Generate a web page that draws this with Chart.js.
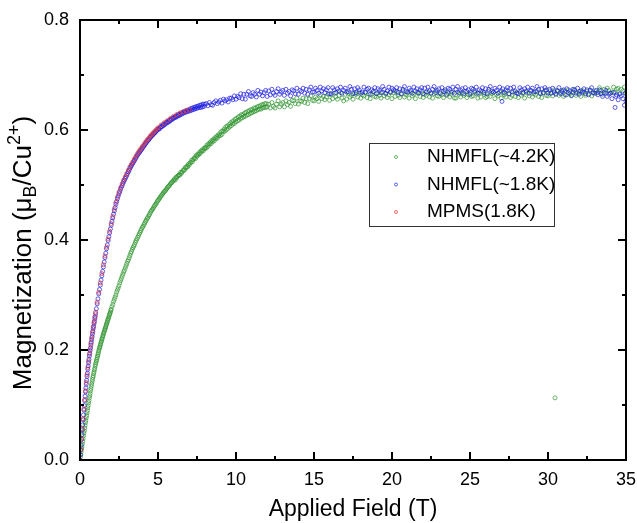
<!DOCTYPE html>
<html>
<head>
<meta charset="utf-8">
<script src="https://cdn.jsdelivr.net/npm/chart.js@4.4.1/dist/chart.umd.min.js"></script>
<style>
html,body{margin:0;padding:0;background:#fff;}
#wrap{width:637px;height:523px;position:relative;}
canvas{display:block;}
</style>
</head>
<body>
<div id="wrap"><canvas id="c" width="637" height="523"></canvas></div>
<script>
// ---- data ----
const seriesLabels = ['NHMFL(~4.2K)', 'NHMFL(~1.8K)', 'MPMS(1.8K)'];
const xTickValues = [0, 5, 10, 15, 20, 25, 30, 35];
const xMinorTicks = [2.5, 7.5, 12.5, 17.5, 22.5, 27.5, 32.5];
const yTickLabels = ['0.0', '0.2', '0.4', '0.6', '0.8'];
const yTickValues = [0, 0.2, 0.4, 0.6, 0.8];
const yMinorTicks = [0.1, 0.3, 0.5, 0.7];

// NHMFL ~4.2 K : [field (T), magnetization (muB/Cu2+)]
const green42K = [
[0,0],[0.025,0.005],[0.05,0.010],[0.075,0.015],[0.1,0.020],[0.125,0.024],[0.15,0.029],[0.175,0.034],[0.2,0.039],[0.225,0.044],[0.25,0.049],[0.275,0.053],[0.3,0.058],[0.325,0.063],[0.35,0.068],[0.375,0.072],[0.4,0.077],[0.425,0.081],[0.45,0.086],[0.475,0.090],[0.5,0.095],[0.525,0.099],[0.55,0.104],[0.575,0.108],[0.6,0.113],[0.625,0.117],[0.65,0.121],[0.675,0.126],[0.7,0.130],[0.725,0.134],[0.75,0.138],[0.775,0.142],[0.8,0.146],[0.825,0.150],[0.85,0.153],[0.875,0.157],[0.9,0.160],[0.925,0.164],[0.95,0.167],[0.975,0.171],[1,0.174],
[1.025,0.177],[1.05,0.180],[1.075,0.183],[1.1,0.186],[1.125,0.189],[1.15,0.192],[1.175,0.195],[1.2,0.198],[1.225,0.201],[1.25,0.204],[1.275,0.206],[1.3,0.209],[1.325,0.211],[1.35,0.214],[1.375,0.216],[1.4,0.219],[1.425,0.221],[1.45,0.224],[1.475,0.226],[1.5,0.229],[1.525,0.231],[1.55,0.233],[1.575,0.236],[1.6,0.238],[1.625,0.240],[1.65,0.242],[1.675,0.245],[1.7,0.247],[1.725,0.249],[1.75,0.251],[1.775,0.254],[1.8,0.256],[1.825,0.258],[1.85,0.260],[1.875,0.263],[1.9,0.265],[1.925,0.267],[1.95,0.269],[1.975,0.272],[2,0.274],
[2.05,0.279],[2.1,0.283],[2.15,0.288],[2.2,0.292],[2.25,0.296],[2.3,0.300],[2.35,0.305],[2.4,0.309],[2.45,0.313],[2.5,0.317],[2.55,0.322],[2.6,0.326],[2.65,0.330],[2.7,0.334],[2.75,0.338],[2.8,0.342],[2.85,0.345],[2.9,0.349],[2.95,0.353],[3,0.357],[3.05,0.361],[3.1,0.364],[3.15,0.368],[3.2,0.372],[3.25,0.376],[3.3,0.379],[3.35,0.383],[3.4,0.386],[3.45,0.389],[3.5,0.392],[3.55,0.396],[3.6,0.399],[3.65,0.402],[3.7,0.405],[3.75,0.408],[3.8,0.411],[3.85,0.414],[3.9,0.417],[3.95,0.420],[4,0.423],
[4.05,0.425],[4.1,0.428],[4.15,0.431],[4.2,0.434],[4.25,0.436],[4.3,0.439],[4.35,0.441],[4.4,0.444],[4.45,0.446],[4.5,0.449],[4.55,0.452],[4.6,0.454],[4.65,0.456],[4.7,0.458],[4.75,0.461],[4.8,0.463],[4.85,0.465],[4.9,0.467],[4.95,0.470],[5,0.472],[5.05,0.474],[5.1,0.476],[5.15,0.478],[5.2,0.480],[5.25,0.482],[5.3,0.484],[5.35,0.486],[5.4,0.488],[5.45,0.489],[5.5,0.491],[5.55,0.493],[5.6,0.495],[5.65,0.497],[5.7,0.498],[5.75,0.500],[5.8,0.502],[5.85,0.504],[5.9,0.505],[5.95,0.507],[6,0.508],
[6.05,0.511],[6.1,0.509],[6.15,0.514],[6.2,0.513],[6.25,0.516],[6.3,0.517],[6.35,0.519],[6.4,0.518],[6.45,0.523],[6.5,0.521],[6.55,0.524],[6.6,0.526],[6.65,0.528],[6.7,0.527],[6.75,0.532],[6.8,0.531],[6.85,0.534],[6.9,0.533],[6.95,0.538],[7,0.536],[7.05,0.540],[7.1,0.541],[7.15,0.545],[7.2,0.542],[7.25,0.546],[7.3,0.548],[7.35,0.550],[7.4,0.548],[7.45,0.554],[7.5,0.552],[7.55,0.556],[7.6,0.555],[7.65,0.559],[7.7,0.557],[7.75,0.562],[7.8,0.561],[7.85,0.564],[7.9,0.562],[7.95,0.567],[8,0.566],
[8.05,0.569],[8.1,0.567],[8.15,0.573],[8.2,0.570],[8.25,0.575],[8.3,0.574],[8.35,0.578],[8.4,0.575],[8.45,0.581],[8.5,0.579],[8.55,0.583],[8.6,0.580],[8.65,0.586],[8.7,0.584],[8.75,0.588],[8.8,0.585],[8.85,0.591],[8.9,0.589],[8.95,0.593],[9,0.590],[9.05,0.597],[9.1,0.592],[9.15,0.599],[9.2,0.597],[9.25,0.602],[9.3,0.598],[9.35,0.606],[9.4,0.601],[9.45,0.607],[9.5,0.603],[9.55,0.610],[9.6,0.606],[9.65,0.613],[9.7,0.608],[9.75,0.615],[9.8,0.611],[9.85,0.617],[9.9,0.612],[9.95,0.620],[10,0.615],
[10.05,0.621],[10.1,0.617],[10.15,0.624],[10.2,0.618],[10.25,0.625],[10.3,0.621],[10.35,0.628],[10.4,0.622],[10.45,0.628],[10.5,0.624],[10.55,0.631],[10.6,0.625],[10.65,0.632],[10.7,0.627],[10.75,0.634],[10.8,0.628],[10.85,0.635],[10.9,0.630],[10.95,0.637],[11,0.631],[11.05,0.637],[11.1,0.633],[11.15,0.640],[11.2,0.634],[11.25,0.640],[11.3,0.635],[11.35,0.642],[11.4,0.637],[11.45,0.643],[11.5,0.638],[11.55,0.644],[11.6,0.638],[11.65,0.646],[11.7,0.640],[11.75,0.646],[11.8,0.641],[11.85,0.648],[11.9,0.641],[11.95,0.648],[12,0.642],
[12.1,0.647],[12.2,0.640],[12.3,0.650],[12.4,0.643],[12.5,0.640],[12.6,0.647],[12.7,0.653],[12.8,0.642],[12.9,0.647],[13,0.650],[13.1,0.642],[13.2,0.653],[13.3,0.646],[13.4,0.650],[13.5,0.643],[13.6,0.654],[13.7,0.653],[13.8,0.648],[13.9,0.658],[14,0.647],
[14.1,0.653],[14.2,0.652],[14.3,0.658],[14.4,0.650],[14.5,0.657],[14.6,0.648],[14.7,0.657],[14.8,0.662],[14.9,0.654],[15,0.653],[15.1,0.660],[15.2,0.657],[15.3,0.652],[15.4,0.664],[15.5,0.657],[15.6,0.661],[15.7,0.655],[15.8,0.660],[15.9,0.665],[16,0.654],
[16.1,0.664],[16.2,0.657],[16.3,0.667],[16.4,0.660],[16.5,0.656],[16.6,0.663],[16.7,0.668],[16.8,0.658],[16.9,0.653],[17,0.665],[17.1,0.656],[17.2,0.667],[17.3,0.660],[17.4,0.663],[17.5,0.656],[17.6,0.667],[17.7,0.665],[17.8,0.660],[17.9,0.669],[18,0.658],
[18.1,0.664],[18.2,0.662],[18.3,0.668],[18.4,0.659],[18.5,0.666],[18.6,0.657],[18.7,0.665],[18.8,0.670],[18.9,0.661],[19,0.660],[19.1,0.667],[19.2,0.663],[19.3,0.658],[19.4,0.669],[19.5,0.662],[19.6,0.666],[19.7,0.659],[19.8,0.664],[19.9,0.668],[20,0.657],
[20.1,0.668],[20.2,0.661],[20.3,0.670],[20.4,0.663],[20.5,0.659],[20.6,0.666],[20.7,0.671],[20.8,0.660],[20.9,0.664],[21,0.667],[21.1,0.658],[21.2,0.669],[21.3,0.662],[21.4,0.665],[21.5,0.657],[21.6,0.668],[21.7,0.666],[21.8,0.661],[21.9,0.670],[22,0.659],
[22.1,0.665],[22.2,0.663],[22.3,0.669],[22.4,0.660],[22.5,0.667],[22.6,0.658],[22.7,0.666],[22.8,0.671],[22.9,0.662],[23,0.661],[23.1,0.668],[23.2,0.664],[23.3,0.659],[23.4,0.670],[23.5,0.663],[23.6,0.667],[23.7,0.660],[23.8,0.665],[23.9,0.669],[24,0.658],
[24.1,0.658],[24.2,0.669],[24.3,0.665],[24.4,0.660],[24.5,0.667],[24.6,0.663],[24.7,0.670],[24.8,0.659],[24.9,0.664],[25,0.668],[25.1,0.661],[25.2,0.662],[25.3,0.671],[25.4,0.666],[25.5,0.658],[25.6,0.667],[25.7,0.660],[25.8,0.669],[25.9,0.665],[26,0.659],
[26.1,0.661],[26.2,0.670],[26.3,0.661],[26.4,0.666],[26.5,0.668],[26.6,0.657],[26.7,0.665],[26.8,0.662],[26.9,0.669],[27,0.658],[27.1,0.667],[27.2,0.664],[27.3,0.660],[27.4,0.671],[27.5,0.666],[27.6,0.659],[27.7,0.663],[27.8,0.670],[27.9,0.661],[28,0.668],
[28.1,0.659],[28.2,0.670],[28.3,0.663],[28.4,0.666],[28.5,0.658],[28.6,0.669],[28.7,0.667],[28.8,0.662],[28.9,0.671],[29,0.660],[29.1,0.666],[29.2,0.664],[29.3,0.670],[29.4,0.661],[29.5,0.668],[29.6,0.659],[29.7,0.667],[29.8,0.672],[29.9,0.663],[30,0.662],
[30.1,0.671],[30.2,0.667],[30.3,0.662],[30.4,0.673],[30.5,0.666],[30.6,0.670],[30.7,0.663],[30.8,0.668],[30.9,0.672],[31,0.661],[31.1,0.671],[31.2,0.664],[31.3,0.673],[31.4,0.666],[31.5,0.662],[31.6,0.669],[31.7,0.674],[31.8,0.663],[31.9,0.667],[32,0.670],
[32.1,0.661],[32.2,0.672],[32.3,0.668],[32.4,0.663],[32.5,0.670],[32.6,0.666],[32.7,0.673],[32.8,0.662],[32.9,0.667],[33,0.671],[33.1,0.667],[33.2,0.668],[33.3,0.677],[33.4,0.672],[33.5,0.665],[33.6,0.674],[33.7,0.667],[33.8,0.676],[33.9,0.672],[34,0.667],
[34.1,0.669],[34.2,0.678],[34.3,0.669],[34.4,0.674],[34.5,0.676],[34.6,0.665],[34.7,0.674],[34.8,0.671],[34.9,0.678],[35,0.667],
[30.45,0.113]
];

// NHMFL ~1.8 K
const blue18K = [
[0,0],[0.025,0.009],[0.05,0.018],[0.075,0.027],[0.1,0.037],[0.125,0.046],[0.15,0.055],[0.175,0.064],[0.2,0.073],[0.225,0.082],[0.25,0.091],[0.275,0.099],[0.3,0.108],[0.325,0.116],[0.35,0.124],[0.375,0.131],[0.4,0.138],[0.425,0.145],[0.45,0.152],[0.475,0.158],[0.5,0.165],[0.525,0.171],[0.55,0.177],[0.575,0.183],[0.6,0.189],[0.625,0.194],[0.65,0.199],[0.675,0.204],[0.7,0.209],[0.725,0.214],[0.75,0.219],[0.775,0.224],[0.8,0.229],[0.825,0.234],[0.85,0.239],[0.875,0.243],[0.9,0.248],[0.925,0.252],[0.95,0.257],[0.975,0.261],[1,0.266],
[1.05,0.275],[1.1,0.284],[1.15,0.293],[1.2,0.302],[1.25,0.310],[1.3,0.318],[1.35,0.327],[1.4,0.335],[1.45,0.343],[1.5,0.351],[1.55,0.360],[1.6,0.368],[1.65,0.376],[1.7,0.384],[1.75,0.391],[1.8,0.399],[1.85,0.406],[1.9,0.413],[1.95,0.420],[2,0.427],[2.05,0.434],[2.1,0.440],[2.15,0.447],[2.2,0.453],[2.25,0.459],[2.3,0.465],[2.35,0.470],[2.4,0.475],[2.45,0.480],[2.5,0.484],[2.55,0.488],[2.6,0.492],[2.65,0.496],[2.7,0.499],[2.75,0.503],[2.8,0.506],[2.85,0.509],[2.9,0.512],[2.95,0.515],[3,0.518],
[3.05,0.521],[3.1,0.524],[3.15,0.527],[3.2,0.530],[3.25,0.533],[3.3,0.535],[3.35,0.538],[3.4,0.540],[3.45,0.543],[3.5,0.545],[3.55,0.548],[3.6,0.550],[3.65,0.553],[3.7,0.555],[3.75,0.557],[3.8,0.559],[3.85,0.561],[3.9,0.563],[3.95,0.565],[4,0.567],[4.05,0.569],[4.1,0.571],[4.15,0.573],[4.2,0.575],[4.25,0.577],[4.3,0.579],[4.35,0.581],[4.4,0.582],[4.45,0.584],[4.5,0.586],[4.55,0.588],[4.6,0.589],[4.65,0.591],[4.7,0.592],[4.75,0.594],[4.8,0.595],[4.85,0.597],[4.9,0.598],[4.95,0.600],[5,0.601],
[5.05,0.603],[5.1,0.602],[5.15,0.605],[5.2,0.606],[5.25,0.606],[5.3,0.609],[5.35,0.608],[5.4,0.611],[5.45,0.610],[5.5,0.613],[5.55,0.614],[5.6,0.613],[5.65,0.616],[5.7,0.615],[5.75,0.618],[5.8,0.617],[5.85,0.620],[5.9,0.619],[5.95,0.622],[6,0.621],[6.05,0.623],[6.1,0.624],[6.15,0.623],[6.2,0.626],[6.25,0.625],[6.3,0.628],[6.35,0.626],[6.4,0.629],[6.45,0.628],[6.5,0.631],[6.55,0.629],[6.6,0.632],[6.65,0.631],[6.7,0.634],[6.75,0.632],[6.8,0.635],[6.85,0.633],[6.9,0.636],[6.95,0.634],[7,0.637],
[7.05,0.635],[7.1,0.639],[7.15,0.636],[7.2,0.640],[7.25,0.637],[7.3,0.641],[7.35,0.638],[7.4,0.642],[7.45,0.639],[7.5,0.643],[7.55,0.640],[7.6,0.644],[7.65,0.641],[7.7,0.645],[7.75,0.641],[7.8,0.646],[7.85,0.642],[7.9,0.647],[7.95,0.643],[8,0.647],
[8.1,0.648],[8.2,0.644],[8.3,0.650],[8.4,0.646],[8.5,0.645],[8.6,0.650],[8.7,0.653],[8.8,0.648],[8.9,0.651],[9,0.654],[9.1,0.649],[9.2,0.656],[9.3,0.653],[9.4,0.655],[9.5,0.651],[9.6,0.658],[9.7,0.658],[9.8,0.655],[9.9,0.662],[10,0.656],
[10.1,0.661],[10.2,0.659],[10.3,0.666],[10.4,0.657],[10.5,0.665],[10.6,0.656],[10.7,0.665],[10.8,0.670],[10.9,0.662],[11,0.661],[11.1,0.668],[11.2,0.665],[11.3,0.660],[11.4,0.672],[11.5,0.665],[11.6,0.669],[11.7,0.662],[11.8,0.668],[11.9,0.672],[12,0.661],
[12.1,0.671],[12.2,0.664],[12.3,0.674],[12.4,0.667],[12.5,0.663],[12.6,0.670],[12.7,0.675],[12.8,0.665],[12.9,0.669],[13,0.672],[13.1,0.663],[13.2,0.674],[13.3,0.667],[13.4,0.670],[13.5,0.662],[13.6,0.673],[13.7,0.671],[13.8,0.666],[13.9,0.676],[14,0.665],
[14.1,0.672],[14.2,0.670],[14.3,0.676],[14.4,0.667],[14.5,0.674],[14.6,0.665],[14.7,0.673],[14.8,0.678],[14.9,0.669],[15,0.669],[15.1,0.676],[15.2,0.672],[15.3,0.667],[15.4,0.678],[15.5,0.671],[15.6,0.675],[15.7,0.668],[15.8,0.673],[15.9,0.677],[16,0.666],
[16.1,0.666],[16.2,0.677],[16.3,0.673],[16.4,0.668],[16.5,0.675],[16.6,0.671],[16.7,0.678],[16.8,0.667],[16.9,0.672],[17,0.676],[17.1,0.669],[17.2,0.670],[17.3,0.679],[17.4,0.674],[17.5,0.666],[17.6,0.675],[17.7,0.668],[17.8,0.677],[17.9,0.673],[18,0.667],
[18.1,0.669],[18.2,0.678],[18.3,0.669],[18.4,0.674],[18.5,0.676],[18.6,0.665],[18.7,0.673],[18.8,0.670],[18.9,0.677],[19,0.666],[19.1,0.675],[19.2,0.672],[19.3,0.668],[19.4,0.679],[19.5,0.674],[19.6,0.667],[19.7,0.671],[19.8,0.678],[19.9,0.669],[20,0.676],
[20.1,0.673],[20.2,0.671],[20.3,0.677],[20.4,0.668],[20.5,0.675],[20.6,0.666],[20.7,0.674],[20.8,0.679],[20.9,0.670],[21,0.669],[21.1,0.676],[21.2,0.672],[21.3,0.667],[21.4,0.678],[21.5,0.671],[21.6,0.675],[21.7,0.668],[21.8,0.673],[21.9,0.677],[22,0.666],
[22.1,0.676],[22.2,0.669],[22.3,0.678],[22.4,0.671],[22.5,0.667],[22.6,0.674],[22.7,0.679],[22.8,0.668],[22.9,0.672],[23,0.675],[23.1,0.666],[23.2,0.677],[23.3,0.670],[23.4,0.673],[23.5,0.665],[23.6,0.676],[23.7,0.674],[23.8,0.669],[23.9,0.678],[24,0.667],
[24.1,0.674],[24.2,0.679],[24.3,0.668],[24.4,0.672],[24.5,0.675],[24.6,0.666],[24.7,0.677],[24.8,0.670],[24.9,0.673],[25,0.665],[25.1,0.676],[25.2,0.674],[25.3,0.669],[25.4,0.678],[25.5,0.667],[25.6,0.673],[25.7,0.671],[25.8,0.677],[25.9,0.668],[26,0.675],
[26.1,0.666],[26.2,0.674],[26.3,0.679],[26.4,0.670],[26.5,0.669],[26.6,0.676],[26.7,0.672],[26.8,0.667],[26.9,0.678],[27,0.671],[27.05,0.652],[27.1,0.675],[27.2,0.668],[27.3,0.673],[27.4,0.677],[27.5,0.666],[27.6,0.676],[27.7,0.669],[27.8,0.678],[27.9,0.671],[28,0.667],
[28.1,0.666],[28.2,0.677],[28.3,0.673],[28.4,0.668],[28.5,0.675],[28.6,0.671],[28.7,0.678],[28.8,0.667],[28.9,0.672],[29,0.676],[29.1,0.669],[29.2,0.670],[29.3,0.679],[29.4,0.674],[29.5,0.666],[29.6,0.675],[29.7,0.668],[29.8,0.677],[29.9,0.673],[30,0.667],
[30.1,0.674],[30.2,0.667],[30.3,0.676],[30.4,0.669],[30.5,0.665],[30.6,0.672],[30.7,0.677],[30.8,0.666],[30.9,0.670],[31,0.673],[31.1,0.664],[31.2,0.675],[31.3,0.668],[31.4,0.671],[31.5,0.663],[31.6,0.674],[31.7,0.672],[31.8,0.667],[31.9,0.676],[32,0.665],
[32.1,0.671],[32.2,0.669],[32.3,0.675],[32.4,0.666],[32.5,0.673],[32.6,0.664],[32.7,0.672],[32.8,0.677],[32.9,0.668],[33,0.667],[33.1,0.672],[33.2,0.664],[33.3,0.673],[33.4,0.666],[33.5,0.661],[33.6,0.668],[33.7,0.672],[33.8,0.661],[33.9,0.665],[34,0.667],
[34.1,0.657],[34.2,0.668],[34.3,0.641],[34.35,0.661],[34.4,0.664],[34.5,0.655],[34.6,0.666],[34.7,0.662],[34.8,0.657],[34.9,0.645],[34.95,0.667],[35,0.652]
];

// MPMS 1.8 K
const redMPMS = [
[0,0],[0.05,0.019],[0.1,0.038],[0.15,0.057],[0.2,0.075],[0.25,0.093],[0.3,0.110],[0.35,0.126],[0.4,0.141],[0.45,0.155],[0.5,0.168],[0.55,0.180],[0.6,0.192],[0.65,0.202],[0.7,0.212],[0.75,0.222],[0.8,0.232],[0.85,0.242],[0.9,0.251],[0.95,0.260],[1,0.269],
[1.1,0.287],[1.2,0.305],[1.3,0.322],[1.4,0.339],[1.5,0.355],[1.6,0.371],[1.7,0.387],[1.8,0.402],[1.9,0.416],[2,0.430],[2.1,0.443],[2.2,0.456],[2.3,0.468],[2.4,0.478],[2.5,0.487],[2.6,0.495],[2.7,0.502],[2.8,0.509],[2.9,0.515],[3,0.521],[3.1,0.527],[3.2,0.533],[3.3,0.538],[3.4,0.543],[3.5,0.548],[3.6,0.553],[3.7,0.558],[3.8,0.562],[3.9,0.566],[4,0.570],[4.1,0.574],[4.2,0.578],[4.3,0.582],[4.4,0.585],[4.5,0.589],[4.6,0.592],[4.7,0.595],[4.8,0.598],[4.9,0.601],[5,0.604],[5.2,0.609],[5.4,0.613],[5.6,0.617],[5.8,0.621],[6,0.625],[6.2,0.628],[6.4,0.631],[6.6,0.633],[6.8,0.635],[7,0.637]
];

const seriesColors = ['rgba(50,150,50,0.7)', 'rgba(30,30,225,0.7)', 'rgba(230,55,55,0.75)'];

// ---- helpers ----
const toPoints = arr => arr.map(p => ({x: p[0], y: p[1]}));
const FONT = 'Liberation Sans, Arial, Helvetica, sans-serif';

const frameTicks = {
  id: 'frameTicks',
  afterDraw(chart) {
    const {ctx, chartArea: a, scales: {x, y}} = chart;
    ctx.save();
    ctx.strokeStyle = '#000';
    ctx.lineWidth = 2;
    ctx.beginPath();
    const xt = (v, len) => { const p = x.getPixelForValue(v); ctx.moveTo(p, a.bottom); ctx.lineTo(p, a.bottom - len); ctx.moveTo(p, a.top); ctx.lineTo(p, a.top + len); };
    const yt = (v, len) => { const p = y.getPixelForValue(v); ctx.moveTo(a.left, p); ctx.lineTo(a.left + len, p); ctx.moveTo(a.right, p); ctx.lineTo(a.right - len, p); };
    xTickValues.forEach(v => xt(v, 8)); xMinorTicks.forEach(v => xt(v, 4));
    yTickValues.forEach(v => yt(v, 8)); yMinorTicks.forEach(v => yt(v, 4));
    ctx.stroke();
    ctx.strokeRect(a.left, a.top, a.right - a.left, a.bottom - a.top);
    ctx.restore();
  }
};

const yTitleParts = [['Magnetization (\u03bc', 0], ['B', 1], ['/Cu', 0], ['2+', -1], [')', 0]];
const yTitle = {
  id: 'yTitle',
  afterDraw(chart) {
    const {ctx} = chart;
    const big = 26, small = 18;
    ctx.save();
    ctx.fillStyle = '#000';
    ctx.textBaseline = 'alphabetic';
    let total = 0;
    yTitleParts.forEach(([t, k]) => { ctx.font = (k ? small : big) + 'px ' + FONT; total += ctx.measureText(t).width; });
    ctx.translate(31, 253);
    ctx.rotate(-Math.PI / 2);
    let xPos = -total / 2;
    yTitleParts.forEach(([t, k]) => {
      ctx.font = (k ? small : big) + 'px ' + FONT;
      const off = k === 1 ? 5 : (k === -1 ? -11 : 0);
      ctx.fillText(t, xPos, off);
      xPos += ctx.measureText(t).width;
    });
    ctx.restore();
  }
};

const boxLegend = {
  id: 'boxLegend',
  afterDraw(chart) {
    const ctx = chart.ctx;
    ctx.save();
    ctx.strokeStyle = '#333';
    ctx.lineWidth = 1;
    ctx.strokeRect(369.5, 143.5, 185, 83);
    ctx.font = '19px ' + FONT;
    ctx.textBaseline = 'middle';
    ctx.fillStyle = '#000';
    chart.data.datasets.forEach((ds, i) => {
      const yy = 157 + i * 27.5;
      ctx.beginPath();
      ctx.arc(396, yy, 1.5, 0, Math.PI * 2);
      ctx.strokeStyle = ds.borderColor;
      ctx.lineWidth = 1;
      ctx.stroke();
      ctx.fillText(ds.label, 427, yy);
    });
    ctx.restore();
  }
};

const ptStyle = {backgroundColor: 'rgba(255,255,255,0)', pointRadius: 2, borderWidth: 1};

new Chart(document.getElementById('c'), {
  type: 'scatter',
  data: {
    datasets: [
      Object.assign({label: seriesLabels[0], data: toPoints(green42K), borderColor: seriesColors[0], order: 3}, ptStyle),
      Object.assign({label: seriesLabels[1], data: toPoints(blue18K), borderColor: seriesColors[1], order: 2}, ptStyle),
      Object.assign({label: seriesLabels[2], data: toPoints(redMPMS), borderColor: seriesColors[2], order: 1}, ptStyle)
    ]
  },
  options: {
    responsive: false,
    animation: false,
    devicePixelRatio: 1,
    layout: {padding: {left: 0, right: 11, top: 20, bottom: 0}},
    plugins: {legend: {display: false}, tooltip: {enabled: false}},
    scales: {
      x: {
        type: 'linear', min: 0, max: 35,
        afterBuildTicks: s => { s.ticks = xTickValues.map(v => ({value: v})); },
        ticks: {font: {size: 18, family: FONT}, color: '#000', padding: 9, maxRotation: 0, callback: v => String(v)},
        grid: {display: false, drawTicks: false},
        border: {display: false},
        title: {display: true, text: 'Applied Field (T)', color: '#000', font: {size: 23, family: FONT}, padding: {top: 0, bottom: 0}},
        afterFit: s => { s.height = 63; s.paddingLeft = 0; s.paddingRight = 0; }
      },
      y: {
        type: 'linear', min: 0, max: 0.8,
        afterBuildTicks: s => { s.ticks = yTickValues.map(v => ({value: v})); },
        ticks: {font: {size: 18, family: FONT}, color: '#000', padding: 11, callback: (v, i) => yTickLabels[i]},
        grid: {display: false, drawTicks: false},
        border: {display: false},
        afterFit: s => { s.width = 80; s.paddingTop = 0; s.paddingBottom = 0; }
      }
    }
  },
  plugins: [frameTicks, yTitle, boxLegend]
});
</script>
</body>
</html>
